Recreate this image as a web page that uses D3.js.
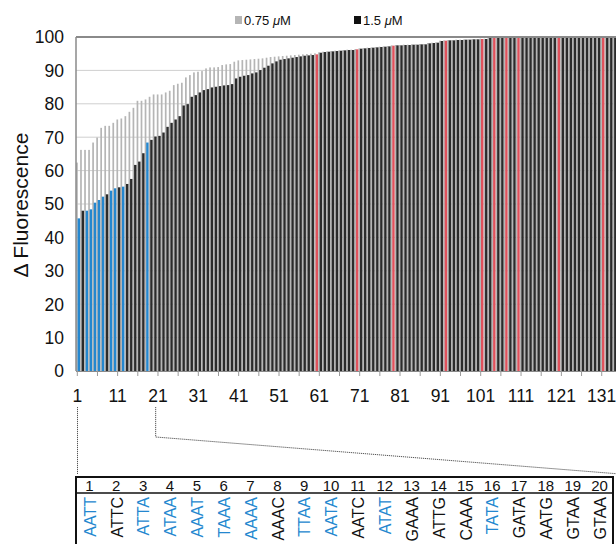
<!DOCTYPE html>
<html><head><meta charset="utf-8">
<script src="https://cdn.jsdelivr.net/npm/d3@7"></script>
<style>body{margin:0;background:#fff}svg{display:block;font-family:"Liberation Sans",Arial,Helvetica,sans-serif}</style>
</head><body><svg id="c" width="616" height="544"></svg>
<script>
// ---------- DATA ----------
const categories = d3.range(1, 137);
const series = ["0.75 μM", "1.5 μM"];
const low = [ // 0.75 uM (gray)
62.4,66.2,66.2,66.2,68.4,69.9,72.8,73.4,73.4,74.3,
75.3,75.6,76.3,77.6,78.8,80.9,80.9,81.3,82.1,82.8,
82.8,82.8,83.4,83.9,85.6,86.0,86.3,87.9,88.6,89.4,
89.6,89.8,90.6,90.9,90.9,91.0,91.6,91.8,91.9,92.6,
93.0,93.1,93.2,93.3,93.4,93.5,93.6,93.8,94.0,94.1,
94.2,94.3,94.4,94.5,94.6,94.7,94.8,94.9,95.0,95.1,
95.4,95.6,95.7,95.8,95.9,96.0,96.1,96.2,96.2,96.4,
96.6,96.7,96.8,96.9,97.0,97.1,97.2,97.3,97.5,97.6,
97.6,97.7,97.7,97.8,97.8,97.9,97.9,98.2,98.3,98.4,
98.9,99.0,99.1,99.1,99.2,99.2,99.3,99.3,99.4,99.4,
99.5,99.5,100,100,100,100,100,100,100,100,
100,100,100,100,100,100,100,100,100,100,
100,100,100,100,100,100,100,100,100,100,
100,100,100,100,100,100];
const high = [ // 1.5 uM (black)
45.7,48.0,48.0,48.4,50.4,51.2,52.2,52.9,54.0,54.7,
55.0,55.2,56.0,57.5,61.7,62.7,65.2,68.4,69.2,70.2,
70.4,71.4,73.1,74.3,75.3,76.3,79.5,79.9,82.1,82.6,
83.4,84.1,84.4,84.9,85.1,85.3,85.5,85.6,85.9,87.6,
88.1,88.4,88.6,89.1,89.4,90.1,90.8,91.4,92.1,92.7,
93.2,93.4,93.6,93.8,94.0,94.2,94.4,94.5,94.6,94.8,
95.3,95.5,95.6,95.7,95.8,95.9,96.0,96.1,96.1,96.3,
96.5,96.6,96.7,96.8,96.9,97.0,97.1,97.2,97.4,97.5,
97.5,97.6,97.6,97.7,97.7,97.8,97.8,98.1,98.2,98.3,
98.8,98.9,99.0,99.0,99.1,99.1,99.2,99.2,99.3,99.3,
99.4,99.4,100,100,100,100,100,100,100,100,
100,100,100,100,100,100,100,100,100,100,
100,100,100,100,100,100,100,100,100,100,
100,100,100,100,100,100];
const blueBars = [1,3,4,5,6,7,9,10,12,18];
const redBars = [60,70,79,92,101,104,107,110,120,131];
const yTicks = [0,10,20,30,40,50,60,70,80,90,100];
const xTickLabels = [1,11,21,31,41,51,61,71,81,91,101,111,121,131];
const xTickMarks = [1,6,11,16,21,26,31,36,41,46,51,56,61,66,71,76,81,86,91,96,101,106,111,116,121,126,131,136];
const tableNums = [1,2,3,4,5,6,7,8,9,10,11,12,13,14,15,16,17,18,19,20];
const tableSeqs = ["AATT","ATTC","ATTA","ATAA","AAAT","TAAA","AAAA","AAAC","TTAA","AATA","AATC","ATAT","GAAA","ATTG","CAAA","TATA","GATA","AATG","GTAA","GTAA"];
const tableBlue = [1,3,4,5,6,7,9,10,12,16];

// ---------- STYLE ----------
const BLUE = "#2487cf", RED = "#e0525c", BLACK = "#2b2b2b", GRAY = "#b5b5b5";
const svg = d3.select("#c");
const pLeft = 76, pTop = 37, pBottom = 371, step = 4.034;
const x = d3.scaleBand().domain(categories).range([pLeft, pLeft + categories.length * step]).padding(0);
const y = d3.scaleLinear().domain([0, 100]).range([pBottom, pTop]);

// gridlines
svg.append("g").selectAll("line").data(yTicks.filter(d => d > 0 && d < 100)).join("line")
  .attr("x1", pLeft).attr("x2", 616).attr("y1", d => y(d)).attr("y2", d => y(d))
  .attr("stroke", "#cfcfcf").attr("stroke-width", 1);

// bars
const gBars = svg.append("g");
gBars.selectAll("rect.low").data(categories).join("rect").attr("class", "low")
  .attr("x", d => x(d) + 0.1).attr("width", 1.7)
  .attr("y", (d, i) => y(low[i])).attr("height", (d, i) => pBottom - y(low[i]))
  .attr("fill", GRAY);
gBars.selectAll("rect.high").data(categories).join("rect").attr("class", "high")
  .attr("x", d => x(d) + 1.6).attr("width", 2.4)
  .attr("y", (d, i) => y(high[i])).attr("height", (d, i) => pBottom - y(high[i]))
  .attr("fill", d => blueBars.includes(d) ? BLUE : redBars.includes(d) ? RED : BLACK);

// axes frame
svg.append("line").attr("x1", pLeft).attr("x2", 616).attr("y1", y(100)).attr("y2", y(100)).attr("stroke", "#8a8a8a").attr("stroke-width", 2);
svg.append("line").attr("x1", pLeft).attr("x2", pLeft).attr("y1", y(100)).attr("y2", pBottom).attr("stroke", "#8a8a8a").attr("stroke-width", 1.5);
svg.append("line").attr("x1", pLeft).attr("x2", 616).attr("y1", pBottom + 0.5).attr("y2", pBottom + 0.5).attr("stroke", "#8a8a8a").attr("stroke-width", 1);

// y tick labels
svg.append("g").selectAll("text").data(yTicks).join("text")
  .attr("x", 64).attr("y", d => y(d)).attr("dy", "0.36em").attr("text-anchor", "end")
  .attr("font-size", 17.5).attr("fill", "#111").text(d => d);

// x ticks
svg.append("g").selectAll("line").data(xTickMarks).join("line")
  .attr("x1", d => x(d) + 1.3).attr("x2", d => x(d) + 1.3).attr("y1", pBottom).attr("y2", pBottom + 5)
  .attr("stroke", "#9a9a9a").attr("stroke-width", 1);
svg.append("g").selectAll("text").data(xTickLabels).join("text")
  .attr("x", d => x(d) + 1.3).attr("y", 402).attr("text-anchor", "middle")
  .attr("font-size", 17.5).attr("fill", "#111").text(d => d);

// y title
svg.append("text").attr("transform", "translate(28,205) rotate(-90)").attr("text-anchor", "middle")
  .attr("font-size", 21).attr("fill", "#111").text("Δ Fluorescence");

// legend
const leg = svg.append("g");
[[235, GRAY, series[0]], [354, "#111", series[1]]].forEach(([lx, c, t]) => {
  leg.append("rect").attr("x", lx).attr("y", 16).attr("width", 7).attr("height", 8).attr("fill", c);
  const tx = leg.append("text").attr("x", lx + 9).attr("y", 25).attr("font-size", 13).attr("fill", "#111");
  const parts = t.split("μ");
  tx.append("tspan").text(parts[0]);
  tx.append("tspan").attr("font-style", "italic").text("μ");
  tx.append("tspan").text(parts[1]);
});

// dotted connectors
const xs1 = x(1) + 1.5, xs21 = x(21) - 1;
svg.append("path").attr("d", `M${xs1},407 V474`).attr("fill", "none").attr("stroke", "#555").attr("stroke-width", 1).attr("stroke-dasharray", "1.2,0.8");
svg.append("path").attr("d", `M${xs21},407 V437 L620,474`).attr("fill", "none").attr("stroke", "#555").attr("stroke-width", 1).attr("stroke-dasharray", "1.2,0.8");

// table
const tx0 = 76, tx1 = 613, ty0 = 477, ty1 = 493;
const col = d3.scaleBand().domain(tableNums).range([tx0, tx1]);
svg.append("rect").attr("x", tx0).attr("y", ty0).attr("width", tx1 - tx0).attr("height", 100)
  .attr("fill", "none").attr("stroke", "#111").attr("stroke-width", 2);
svg.append("line").attr("x1", tx0).attr("x2", tx1).attr("y1", ty1).attr("y2", ty1).attr("stroke", "#111").attr("stroke-width", 1.5);
svg.append("g").selectAll("text").data(tableNums).join("text")
  .attr("x", d => col(d) + col.bandwidth() / 2).attr("y", 490.5).attr("text-anchor", "middle")
  .attr("font-size", 15).attr("fill", "#111").text(d => d);
svg.append("g").selectAll("text").data(tableNums).join("text")
  .attr("transform", d => `translate(${col(d) + col.bandwidth() / 2 + 0.5},497) rotate(-90)`)
  .attr("text-anchor", "end").attr("dy", "0.36em")
  .attr("font-size", 16).attr("fill", d => tableBlue.includes(d) ? BLUE : "#111")
  .text((d, i) => tableSeqs[i]);
</script></body></html>
